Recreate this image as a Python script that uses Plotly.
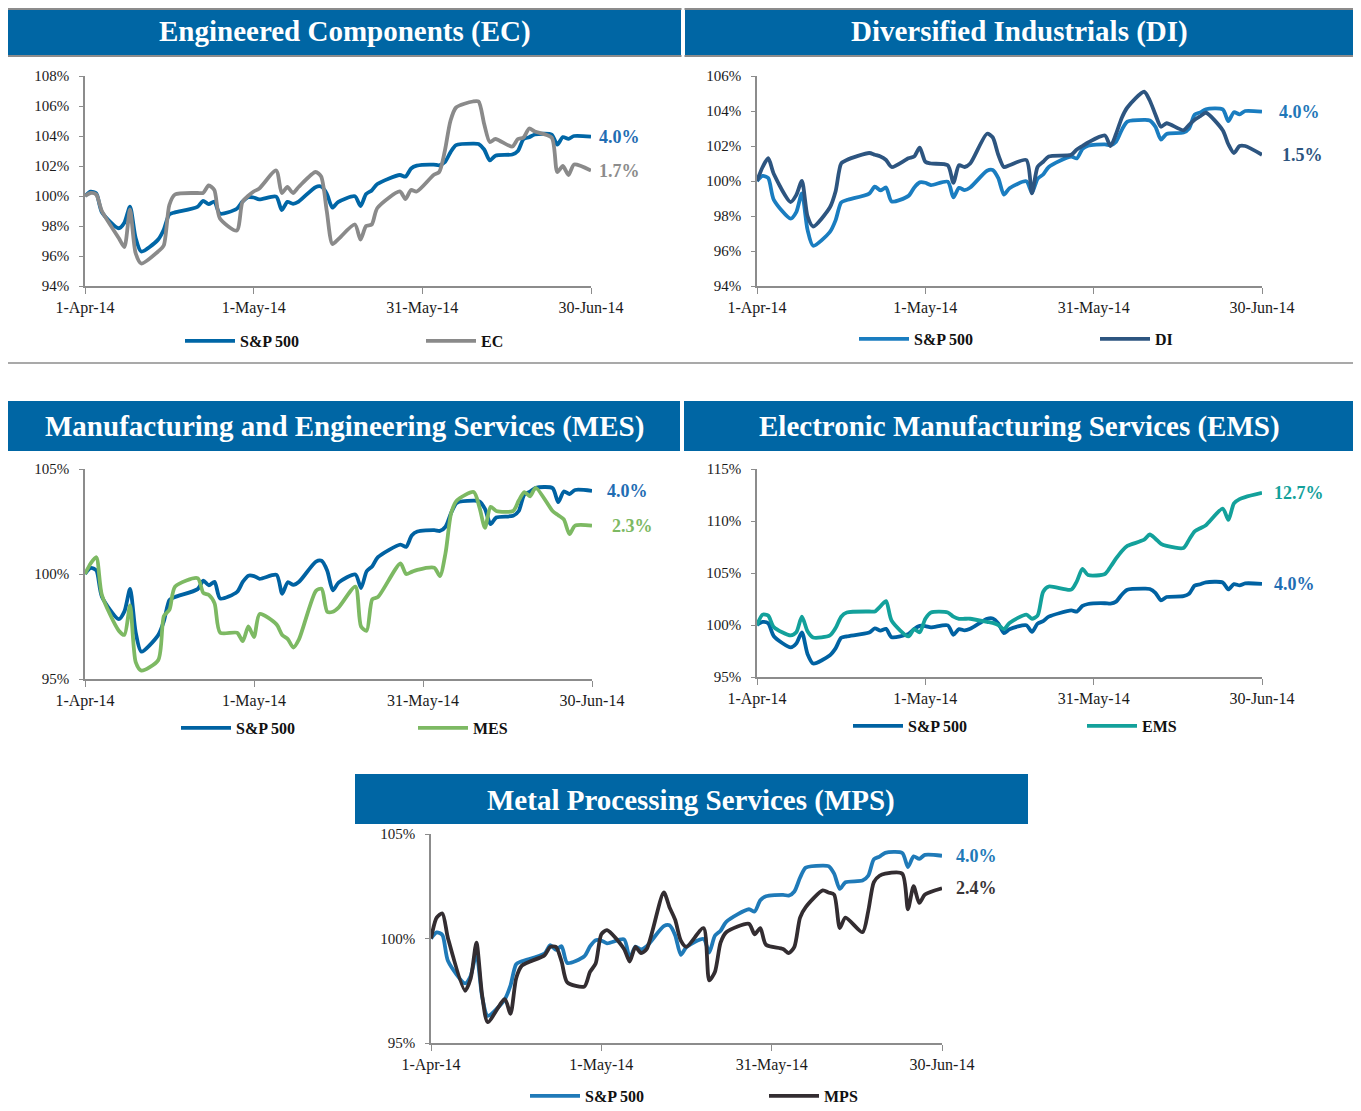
import plotly.graph_objects as go

# the page body adds an 8 px margin, so the figure is 8 px smaller and all
# reference pixel positions are converted with that offset
OFF = 8
W, H = 1361 - OFF, 1111 - OFF

# ---------------- data ----------------
dates = [
    "2014-04-01", "2014-04-02", "2014-04-03", "2014-04-04", "2014-04-07", "2014-04-08", "2014-04-09",
    "2014-04-10", "2014-04-11", "2014-04-14", "2014-04-15", "2014-04-16", "2014-04-17", "2014-04-21",
    "2014-04-22", "2014-04-23", "2014-04-24", "2014-04-25", "2014-04-28", "2014-04-29", "2014-04-30",
    "2014-05-01", "2014-05-02", "2014-05-05", "2014-05-06", "2014-05-07", "2014-05-08", "2014-05-09",
    "2014-05-12", "2014-05-13", "2014-05-14", "2014-05-15", "2014-05-16", "2014-05-19", "2014-05-20",
    "2014-05-21", "2014-05-22", "2014-05-23", "2014-05-27", "2014-05-28", "2014-05-29", "2014-05-30",
    "2014-06-02", "2014-06-03", "2014-06-04", "2014-06-05", "2014-06-06", "2014-06-09", "2014-06-10",
    "2014-06-11", "2014-06-12", "2014-06-13", "2014-06-16", "2014-06-17", "2014-06-18", "2014-06-19",
    "2014-06-20", "2014-06-23", "2014-06-24", "2014-06-25", "2014-06-26", "2014-06-27", "2014-06-30",
]

sp500 = [
    100.00, 100.29, 100.17, 98.92, 97.85, 98.22, 99.29, 97.22, 96.30, 97.09, 97.75, 98.77, 98.91, 99.28,
    99.68, 99.46, 99.63, 98.83, 99.15, 99.62, 99.92,
    99.90, 99.77, 99.96, 99.06, 99.61, 99.48, 99.63, 100.59, 100.63, 100.16, 99.22, 99.59, 99.98, 99.33,
    100.13, 100.37, 100.80, 101.40, 101.29, 101.83, 102.02,
    102.09, 102.05, 102.25, 102.91, 103.39, 103.49, 103.46, 103.10, 102.37, 102.69, 102.77, 103.00, 103.79,
    103.92, 104.10, 104.09, 103.42, 103.93, 103.81, 104.00, 103.96,
]

ec = [
    100.0, 100.2, 100.1, 99.0, 97.2, 96.6, 99.1, 96.2, 95.5, 96.3, 96.7, 99.4, 100.1, 100.2,
    100.2, 100.7, 100.4, 98.5, 97.7, 99.6, 100.0,
    100.3, 100.5, 101.7, 100.2, 100.6, 100.2, 100.6, 101.6, 101.3, 99.0, 96.8, 97.1, 98.1, 97.1,
    98.0, 98.1, 99.2, 100.3, 99.8, 100.4, 100.3,
    101.4, 101.6, 103.0, 105.0, 105.9, 106.3, 106.3, 104.8, 103.6, 103.8, 103.3, 103.8, 103.9,
    104.5, 104.3, 103.9, 101.6, 102.0, 101.4, 102.1, 101.7,
]

di = [
    100.0, 100.8, 101.3, 100.4, 98.8, 99.2, 100.0, 98.0, 97.4, 98.5, 99.4, 101.0, 101.2, 101.6,
    101.5, 101.4, 101.2, 100.8, 101.3, 101.4, 101.9,
    101.1, 101.0, 100.9, 99.9, 100.9, 100.8, 101.0, 102.7, 102.5, 101.5, 100.8, 100.9, 101.2, 99.3,
    100.8, 101.1, 101.4, 101.5, 101.8, 102.0, 102.2,
    102.6, 102.0, 102.7, 103.6, 104.2, 105.1, 104.6, 103.8, 103.1, 103.3, 102.9, 103.2, 103.5,
    103.7, 103.9, 102.9, 102.1, 101.6, 102.0, 102.0, 101.5,
]

mes = [
    100.0, 100.5, 100.8, 99.0, 97.3, 97.1, 98.5, 95.8, 95.4, 95.9, 98.0, 98.3, 99.4, 99.8,
    99.1, 99.0, 98.6, 97.2, 97.2, 96.8, 97.5,
    97.0, 98.1, 97.6, 97.1, 96.9, 96.5, 96.9, 99.2, 99.3, 98.2, 98.2, 98.4, 99.4, 97.5,
    97.3, 98.8, 98.9, 100.5, 100.0, 100.1, 100.2,
    100.3, 99.9, 101.0, 102.9, 103.5, 103.9, 103.2, 102.2, 103.2, 103.0, 103.0, 103.5, 103.9,
    103.7, 104.1, 103.0, 102.8, 102.6, 101.9, 102.3, 102.3,
]

ems = [
    100.0, 101.0, 100.9, 99.8, 99.0, 99.3, 100.8, 99.4, 98.8, 99.0, 99.7, 100.8, 101.2, 101.3,
    101.3, 101.8, 102.3, 100.4, 98.9, 99.6, 99.3,
    100.6, 101.2, 101.2, 100.8, 100.6, 100.6, 100.6, 100.3, 100.2, 100.0, 99.6, 100.2, 101.0, 100.6,
    100.9, 103.2, 103.7, 103.4, 104.2, 105.4, 104.8,
    104.9, 105.6, 106.4, 107.1, 107.6, 108.2, 108.7, 108.3, 107.8, 107.6, 107.4, 108.2, 109.0,
    109.3, 109.6, 111.2, 110.1, 111.7, 112.1, 112.3, 112.7,
]

mps = [
    100.0, 101.0, 101.2, 100.0, 97.5, 98.1, 99.8, 97.3, 96.0, 97.1, 96.4, 98.1, 98.7, 99.2,
    99.6, 99.6, 98.9, 97.9, 97.7, 98.4, 98.8,
    100.2, 100.4, 99.5, 98.9, 99.6, 99.3, 99.5, 102.2, 101.5, 100.9, 99.9, 99.6, 100.5, 98.0,
    98.4, 99.8, 100.3, 100.7, 100.2, 100.5, 99.7,
    99.5, 99.3, 99.6, 101.0, 101.5, 102.3, 102.2, 102.1, 100.5, 101.0, 100.3, 101.3, 102.7,
    103.0, 103.1, 103.1, 101.4, 102.5, 101.7, 102.1, 102.4,
]

x_tickvals = ["2014-04-01", "2014-05-01", "2014-05-31", "2014-06-30"]
x_ticktext = ["1-Apr-14", "1-May-14", "31-May-14", "30-Jun-14"]

# ---------------- panel configuration (reference pixel positions) ----------------
panels = [
    dict(title="Engineered Components (EC)", name="EC", values=ec, color="#8A8A8A", sp_color="#0066A6",
         sp_lab="#1F6DB3", lab="#8C8C8C",
         px=(85, 591), py=(76, 286), yr=(94, 108), yt=[94, 96, 98, 100, 102, 104, 106, 108],
         bar=(8, 681, 6, 55), leg_y=341, leg1=240, leg2=481, lshift=(6, 6)),
    dict(title="Diversified Industrials (DI)", name="DI", values=di, color="#2D5580", sp_color="#1A7DC0",
         sp_lab="#1F77B8", lab="#2D5580",
         px=(757, 1262), py=(76, 286), yr=(94, 106), yt=[94, 96, 98, 100, 102, 104, 106],
         bar=(685, 1354, 6, 55), leg_y=339, leg1=914, leg2=1155, lshift=(15, 18)),
    dict(title="Manufacturing and Engineering Services (MES)", name="MES", values=mes, color="#7DB963",
         sp_color="#0062A2", sp_lab="#1F6DB3", lab="#7DB963",
         px=(85, 592), py=(469, 679), yr=(95, 105), yt=[95, 100, 105],
         bar=(8, 680, 401, 451), leg_y=728, leg1=236, leg2=473, lshift=(13, 18)),
    dict(title="Electronic Manufacturing Services (EMS)", name="EMS", values=ems, color="#13A19B",
         sp_color="#0062A2", sp_lab="#1F6DB3", lab="#13A19B",
         px=(757, 1262), py=(469, 677), yr=(95, 115), yt=[95, 100, 105, 110, 115],
         bar=(684, 1354, 401, 451), leg_y=726, leg1=908, leg2=1142, lshift=(10, 10)),
    dict(title="Metal Processing Services (MPS)", name="MPS", values=mps, color="#332D31",
         sp_color="#1F7AB8", sp_lab="#1F7AB8", lab="#3A3538",
         px=(431, 942), py=(834, 1043), yr=(95, 105), yt=[95, 100, 105],
         bar=(355, 1028, 774, 824), leg_y=1096, leg1=585, leg2=824, lshift=(12, 12)),
]

SERIF = "Liberation Serif"
AXIS_COLOR = "#8C8C8C"
ITEMW = 50   # legend symbol width

fig = go.Figure()
layout = dict(
    width=W, height=H, autosize=False, margin=dict(l=0, r=0, t=0, b=0, pad=0, autoexpand=False),
    paper_bgcolor="white", plot_bgcolor="white", showlegend=True,
    shapes=[], annotations=[],
)

def fx(p):
    return (p - OFF) / W

def fy(p):
    return 1 - (p - OFF) / H

leg_idx = 0
for i, p in enumerate(panels):
    n = "" if i == 0 else str(i + 1)
    xa, ya = "x" + n, "y" + n
    leg_names = []
    for lx in (p["leg1"], p["leg2"]):
        leg_idx += 1
        lname = "legend" if leg_idx == 1 else "legend%d" % leg_idx
        leg_names.append(lname)
        layout[lname] = dict(
            x=fx(lx - ITEMW - 10), y=fy(p["leg_y"]), xanchor="left", yanchor="middle",
            orientation="h", bgcolor="rgba(0,0,0,0)", borderwidth=0,
            font=dict(family=SERIF, size=16, color="#111111", weight="bold"),
            itemwidth=ITEMW, tracegroupgap=0,
        )

    fig.add_trace(go.Scatter(
        x=dates, y=sp500, mode="lines", name="S&P 500", xaxis=xa, yaxis=ya,
        line=dict(color=p["sp_color"], width=3.8, shape="spline", smoothing=0.7),
        legend=leg_names[0], hoverinfo="skip",
    ))
    fig.add_trace(go.Scatter(
        x=dates, y=p["values"], mode="lines", name=p["name"], xaxis=xa, yaxis=ya,
        line=dict(color=p["color"], width=3.8, shape="spline", smoothing=0.7),
        legend=leg_names[1], hoverinfo="skip",
    ))

    layout["xaxis" + n] = dict(
        domain=[fx(p["px"][0]), fx(p["px"][1])], anchor=ya, type="date", automargin=False,
        range=[dates[0], dates[-1]], tickmode="array", tickvals=x_tickvals, ticktext=x_ticktext,
        ticks="outside", ticklen=6, tickwidth=1.2, tickcolor=AXIS_COLOR, ticklabelstandoff=0,
        showline=True, linecolor=AXIS_COLOR, linewidth=1.6, showgrid=False, zeroline=False,
        tickfont=dict(family=SERIF, size=16, color="#1A1A1A"), fixedrange=True,
    )
    layout["yaxis" + n] = dict(
        domain=[fy(p["py"][1]), fy(p["py"][0])], anchor=xa, automargin=False,
        range=list(p["yr"]), tickmode="array", tickvals=p["yt"],
        ticktext=["%d%%" % v for v in p["yt"]],
        ticks="outside", ticklen=4, tickwidth=1.2, tickcolor=AXIS_COLOR, ticklabelstandoff=7,
        showline=True, linecolor=AXIS_COLOR, linewidth=1.6, showgrid=False, zeroline=False,
        tickfont=dict(family=SERIF, size=15, color="#1A1A1A"), fixedrange=True,
    )

    for val, col, sh in ((sp500[-1], p["sp_lab"], p["lshift"][0]), (p["values"][-1], p["lab"], p["lshift"][1])):
        layout["annotations"].append(dict(
            x=dates[-1], y=val, xref=xa, yref=ya, text="%.1f%%" % (val - 100),
            showarrow=False, xanchor="left", yanchor="middle", xshift=sh,
            font=dict(family=SERIF, size=18, color=col, weight="bold"),
        ))

    x0, x1, y0, y1 = p["bar"]
    layout["shapes"].append(dict(
        type="rect", xref="paper", yref="paper", x0=fx(x0), x1=fx(x1), y0=fy(y1), y1=fy(y0),
        fillcolor="#0066A4", line=dict(width=0), layer="below",
    ))
    layout["annotations"].append(dict(
        x=fx((x0 + x1) / 2), y=fy((y0 + y1) / 2 + 1), xref="paper", yref="paper",
        text=p["title"], showarrow=False, xanchor="center", yanchor="middle",
        font=dict(family=SERIF, size=29, color="white", weight="bold"),
    ))

for yy in (9, 56, 363):
    layout["shapes"].append(dict(
        type="line", xref="paper", yref="paper", x0=fx(8), x1=fx(1354), y0=fy(yy), y1=fy(yy),
        line=dict(color="#8C8C8C", width=2 if yy != 363 else 1.5),
    ))
layout["shapes"].append(dict(
    type="line", xref="paper", yref="paper", x0=fx(683), x1=fx(683), y0=fy(8), y1=fy(57),
    line=dict(color="white", width=3),
))

fig.update_layout(**layout)
fig.write_html("out.html")
